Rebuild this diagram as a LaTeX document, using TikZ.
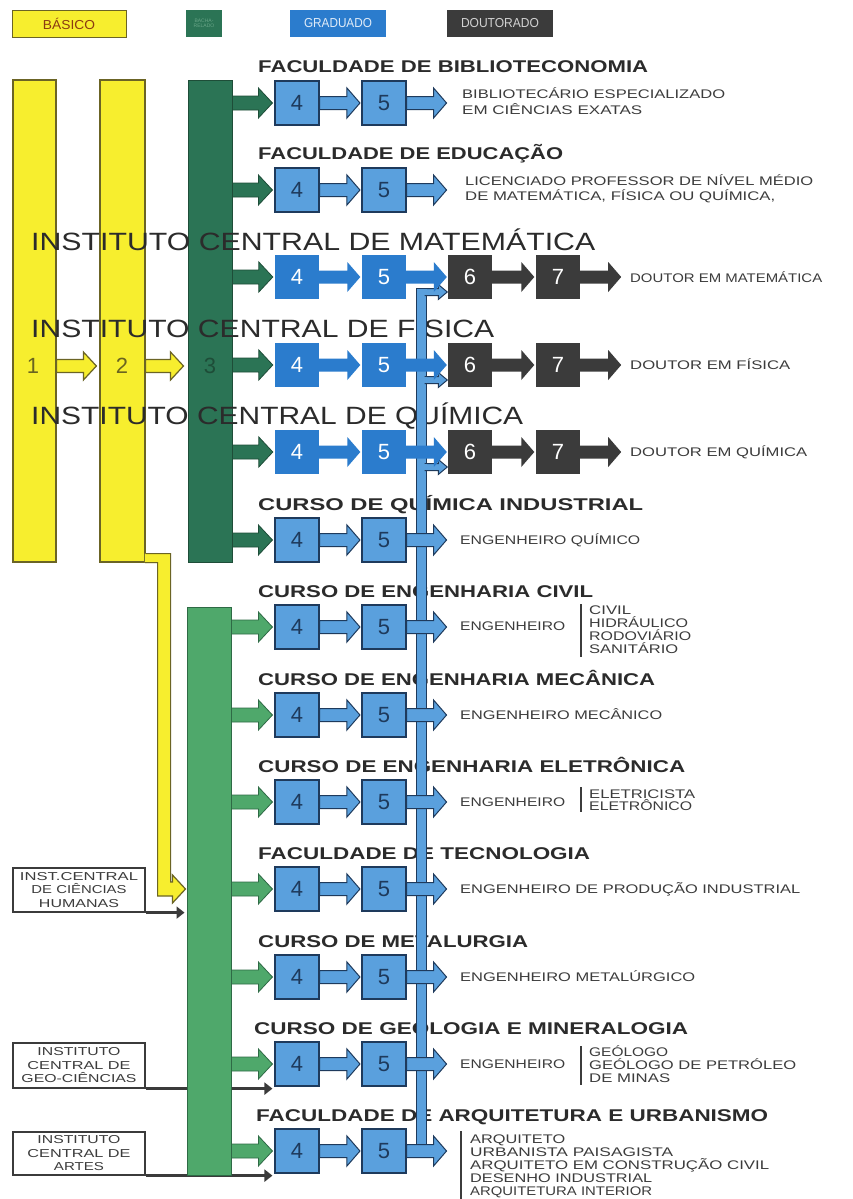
\documentclass[tikz,border=0pt]{standalone}
\usepackage{fontspec}
\setmainfont{Liberation Sans}
\usepackage{graphicx}
\usetikzlibrary{calc,arrows.meta}
\pgfdeclarelayer{back}
\pgfdeclarelayer{mid}
\pgfsetlayers{back,mid,main}

\definecolor{ylw}{HTML}{F7EE2E}
\definecolor{ylwd}{HTML}{6B6425}
\definecolor{olv}{HTML}{6A6420}
\definecolor{dgrn}{HTML}{2B7455}
\definecolor{dgrnd}{HTML}{1E4D38}
\definecolor{lgrn}{HTML}{4FA86B}
\definecolor{lgrnd}{HTML}{2E6A45}
\definecolor{sblu}{HTML}{2B7CCD}
\definecolor{lblu}{HTML}{5AA0DD}
\definecolor{nav}{HTML}{1E3A5C}
\definecolor{dk}{HTML}{3B3B3B}
\definecolor{txt}{HTML}{2B2B2B}
\definecolor{lbl}{HTML}{3C3C3C}
\definecolor{brn}{HTML}{8B3A12}
\definecolor{lgtxt}{HTML}{6AA688}

\newcommand\fw[2]{\resizebox{#1}{\height}{#2}}
% block arrow: style, from, to, shaft half, head half, head length
\newcommand\barr[6]{\path[#1] let \p1=(#2), \p2=(#3) in
  (\x1,{\y1+#4}) -- ({\x2-#6},{\y1+#4}) -- ({\x2-#6},{\y1+#5}) -- (\x2,\y1)
  -- ({\x2-#6},{\y1-#5}) -- ({\x2-#6},{\y1-#4}) -- (\x1,{\y1-#4}) -- cycle;}

\tikzset{
 col/.style={inner sep=0pt, minimum width=43pt},
 ycol/.style={col, fill=ylw, draw=ylwd, line width=1.2pt},
 bx/.style={minimum width=44pt, minimum height=44pt, inner sep=0pt, font=\fontsize{22}{22}\selectfont},
 lbox/.style={bx, fill=lblu, draw=nav, line width=1.1pt, text=nav},
 sbox/.style={bx, fill=sblu, text=white},
 dbox/.style={bx, fill=dk, text=white},
 garr/.style={fill=dgrn, draw=dgrnd, line width=0.8pt},
 lgarr/.style={fill=lgrn, draw=lgrnd, line width=0.8pt},
 larr/.style={fill=lblu, draw=nav, line width=1pt},
 sarr/.style={fill=sblu},
 darr/.style={fill=dk},
 yarr/.style={fill=ylw, draw=ylwd, line width=1.2pt},
 ttl/.style={inner sep=0pt, anchor=base west, text=txt, font=\fontsize{17}{18}\selectfont\bfseries},
 bigttl/.style={inner sep=0pt, anchor=base west, text=txt, font=\fontsize{25}{26}\selectfont},
 lab/.style={inner sep=0pt, anchor=base west, text=lbl, font=\fontsize{12.5}{13}\selectfont},
 hbox/.style={draw=dk, line width=1.2pt, fill=white, minimum width=132pt, minimum height=44pt, inner sep=0pt, align=center, text=lbl, font=\fontsize{11.5}{13.5}\selectfont},
 blk/.style={draw=dk, line width=3pt, -{Triangle[length=8pt,width=12pt]}, shorten >=2pt},
 chan/.style={fill=lblu, draw=nav, line width=1pt},
 sidebar/.style={draw=lbl, line width=1.4pt},
 lgd/.style={inner sep=0pt, minimum height=27pt, font=\fontsize{13}{14}\selectfont},
 num/.style={inner sep=0pt, font=\fontsize{22}{22}\selectfont},
}

\newcommand\mkrow[6]{%
 \node[#3] (r#1a) at (297,#2) {4};
 \node[#3] (r#1b) at (384,#2) {5};
 \barr{#5}{#6.east |- r#1a.west}{$(r#1a.west)+(-2,0)$}{7pt}{15pt}{14pt}
 \barr{#4}{r#1a.east}{$(r#1b.west)+(-1.5,0)$}{6.5pt}{15pt}{13pt}
}
\newcommand\docnodes[2]{%
 \node[dbox] (r#1c) at (470,#2) {6};
 \node[dbox] (r#1d) at (558,#2) {7};
}
\newcommand\docarrows[1]{%
 \coordinate (r#1e) at ($(r#1d.east)+(41,0)$);
 \barr{sarr}{r#1b.east}{$(r#1c.west)+(-1,0)$}{6.5pt}{15pt}{13pt}
 \barr{darr}{r#1c.east}{$(r#1d.west)+(-1.5,0)$}{6.5pt}{15pt}{13pt}
 \barr{darr}{r#1d.east}{r#1e}{6.5pt}{15pt}{13pt}
}
\newcommand\outarr[2]{%
 \coordinate (r#1e) at ($(r#1b.east)+(40,0)$);
 \barr{#2}{r#1b.east}{r#1e}{6.5pt}{15pt}{13pt}
}
\newcommand\branch[2]{%
 \coordinate (bs#1) at (425,#2);
 \barr{larr}{bs#1}{$(r#1c.west |- bs#1)+(-0.5,0)$}{3.5pt}{7.5pt}{9pt}
 \fill[lblu] (424.4,{#2-2.9}) rectangle (426.9,{#2+2.9});
}

\begin{document}
\begin{tikzpicture}[x=1pt,y=-1pt]
\begin{pgfonlayer}{back}
\fill[white] (0,0) rectangle (852,1199);
\end{pgfonlayer}
\useasboundingbox (0,0) rectangle (852,1199);

% legend
\node[lgd, fill=ylw, draw=ylwd, line width=1pt, minimum width=114pt, text=brn] (lg1) at (69,24) {\fw{52pt}{BÁSICO}};
\node[lgd, fill=dgrn, minimum width=36pt, text=lgtxt, font=\fontsize{5}{5.5}\selectfont, align=center] (lg2) at (204,23.5) {BACHA-\\RELADO};
\node[lgd, fill=sblu, minimum width=96pt, text=white!85!sblu] (lg3) at (338,23.5) {\fw{68pt}{GRADUADO}};
\node[lgd, fill=dk, minimum width=106pt, text=gray!35] (lg4) at (500,23.5) {\fw{78pt}{DOUTORADO}};

% columns
\node[ycol, minimum height=482pt] (c1) at (34.5,321) {};
\node[ycol, minimum height=482pt, minimum width=45pt] (c2) at (122.5,321) {};
\node[col, fill=dgrn, draw=dgrnd, line width=1pt, minimum width=44pt, minimum height=482pt] (c3) at (210,321) {};
\node[col, fill=lgrn, draw=lgrnd, line width=1pt, minimum width=44pt, minimum height=568pt] (g) at (209,891) {};

% numbers 1 2 3 and yellow arrows
\node[num, text=olv] (n1) at (33,366) {1};
\node[num, text=olv] (n2) at (122,366) {2};
\node[num, text=dgrnd] (n3) at (210,366) {3};
\barr{yarr}{c1.east |- n1}{$(c2.west |- n1)+(-3,0)$}{6.5pt}{14pt}{13pt}
\barr{yarr}{c2.east |- n2}{$(c3.west |- n2)+(-4,0)$}{6.5pt}{14pt}{13pt}

% titles
\node[ttl] (t1) at (258,72) {\fw{390pt}{FACULDADE DE BIBLIOTECONOMIA}};
\node[ttl] (t2) at (258,159) {\fw{305pt}{FACULDADE DE EDUCAÇÃO}};
\node[bigttl] (t3) at (31,250) {\fw{564pt}{INSTITUTO CENTRAL DE MATEMÁTICA}};
\node[bigttl] (t4) at (31,337) {\fw{463pt}{INSTITUTO CENTRAL DE FÍSICA}};
\node[bigttl] (t5) at (31,424) {\fw{492pt}{INSTITUTO CENTRAL DE QUÍMICA}};
\node[ttl] (t6) at (258,510) {\fw{385pt}{CURSO DE QUÍMICA INDUSTRIAL}};
\node[ttl] (t7) at (258,597) {\fw{335pt}{CURSO DE ENGENHARIA CIVIL}};
\node[ttl] (t8) at (258,685) {\fw{397pt}{CURSO DE ENGENHARIA MECÂNICA}};
\node[ttl] (t9) at (258,772) {\fw{427pt}{CURSO DE ENGENHARIA ELETRÔNICA}};
\node[ttl] (t10) at (258,859) {\fw{332pt}{FACULDADE DE TECNOLOGIA}};
\node[ttl] (t11) at (258,947) {\fw{270pt}{CURSO DE METALURGIA}};
\node[ttl] (t12) at (254,1034) {\fw{434pt}{CURSO DE GEOLOGIA E MINERALOGIA}};
\node[ttl] (t13) at (256,1121) {\fw{512pt}{FACULDADE DE ARQUITETURA E URBANISMO}};

% rows
\mkrow{1}{103}{lbox}{larr}{garr}{c3}
\mkrow{2}{190}{lbox}{larr}{garr}{c3}
\mkrow{3}{277}{sbox}{sarr}{garr}{c3}
\mkrow{4}{365}{sbox}{sarr}{garr}{c3}
\mkrow{5}{452}{sbox}{sarr}{garr}{c3}
\mkrow{6}{540}{lbox}{larr}{garr}{c3}
\mkrow{7}{627}{lbox}{larr}{lgarr}{g}
\mkrow{8}{715}{lbox}{larr}{lgarr}{g}
\mkrow{9}{802}{lbox}{larr}{lgarr}{g}
\mkrow{10}{889}{lbox}{larr}{lgarr}{g}
\mkrow{11}{977}{lbox}{larr}{lgarr}{g}
\mkrow{12}{1064}{lbox}{larr}{lgarr}{g}
\mkrow{13}{1151}{lbox}{larr}{lgarr}{g}

% yellow channel from column 2 to the lower green column
\fill[ylw] let \p1=(c2.south east), \p2=(g.west |- r10a.west) in
  ({\x1-0.7pt},{\y1+9pt}) -- ({\x1+25pt},{\y1+9pt}) -- ({\x1+25pt},{\y2+7pt}) -- ({\x2-14pt},{\y2+7pt})
  -- ({\x2-14pt},{\y2+14pt}) -- ({\x2-1pt},\y2) -- ({\x2-14pt},{\y2-14pt}) -- ({\x2-14pt},{\y2-7pt})
  -- ({\x1+12pt},{\y2-7pt}) -- ({\x1+12pt},{\y1-0.6pt}) -- ({\x1-0.7pt},{\y1-0.6pt}) -- cycle;
\draw[ylwd, line width=1.2pt] let \p1=(c2.south east), \p2=(g.west |- r10a.west) in
  (\x1,{\y1+9pt}) -- ({\x1+25pt},{\y1+9pt}) -- ({\x1+25pt},{\y2+7pt}) -- ({\x2-14pt},{\y2+7pt})
  -- ({\x2-14pt},{\y2+14pt}) -- ({\x2-1pt},\y2) -- ({\x2-14pt},{\y2-14pt}) -- ({\x2-14pt},{\y2-7pt})
  -- ({\x1+12pt},{\y2-7pt}) -- ({\x1+12pt},\y1) -- ({\x1-0.6pt},\y1);

% doctoral boxes
\docnodes{3}{277}
\docnodes{4}{365}
\docnodes{5}{452}

% blue channel from the lower graduate courses up to the doctorates
\coordinate (chT) at (421,288.5);
\coordinate (chB) at (421,1146);
\draw[chan] ($(chT)+(-5,0)$) rectangle ($(chB)+(5,0)$);
\branch{3}{292}
\branch{4}{380}
\branch{5}{467}

% output arrows
\docarrows{3}
\docarrows{4}
\docarrows{5}
\outarr{1}{larr}
\outarr{2}{larr}
\outarr{6}{larr}
\outarr{7}{larr}
\outarr{8}{larr}
\outarr{9}{larr}
\outarr{10}{larr}
\outarr{11}{larr}
\outarr{12}{larr}
\outarr{13}{larr}

% labels
\node[lab] (l1a) at (462,99) {\fw{263pt}{BIBLIOTECÁRIO ESPECIALIZADO}};
\node[lab] (l1b) at (462,114) {\fw{180pt}{EM CIÊNCIAS EXATAS}};
\node[lab] (l2a) at (465,185) {\fw{348pt}{LICENCIADO PROFESSOR DE NÍVEL MÉDIO}};
\node[lab] (l2b) at (465,200) {\fw{310pt}{DE MATEMÁTICA, FÍSICA OU QUÍMICA,}};
\node[lab] (l3) at (630,282) {\fw{192pt}{DOUTOR EM MATEMÁTICA}};
\node[lab] (l4) at (630,369) {\fw{160pt}{DOUTOR EM FÍSICA}};
\node[lab] (l5) at (630,456) {\fw{177pt}{DOUTOR EM QUÍMICA}};
\node[lab] (l6) at (460,544) {\fw{180pt}{ENGENHEIRO QUÍMICO}};
\node[lab] (l7) at (460,630) {\fw{105pt}{ENGENHEIRO}};
\draw[sidebar] (581,604) -- (581,657);
\node[lab] (l7a) at (589,614) {\fw{42pt}{CIVIL}};
\node[lab] (l7b) at (589,627) {\fw{99pt}{HIDRÁULICO}};
\node[lab] (l7c) at (589,640) {\fw{102pt}{RODOVIÁRIO}};
\node[lab] (l7d) at (589,653) {\fw{89pt}{SANITÁRIO}};
\node[lab] (l8) at (460,719) {\fw{202pt}{ENGENHEIRO MECÂNICO}};
\node[lab] (l9) at (460,806) {\fw{105pt}{ENGENHEIRO}};
\draw[sidebar] (581,787) -- (581,812);
\node[lab] (l9a) at (589,798) {\fw{106pt}{ELETRICISTA}};
\node[lab] (l9b) at (589,810) {\fw{103pt}{ELETRÔNICO}};
\node[lab] (l10) at (460,893) {\fw{340pt}{ENGENHEIRO DE PRODUÇÃO INDUSTRIAL}};
\node[lab] (l11) at (460,981) {\fw{235pt}{ENGENHEIRO METALÚRGICO}};
\node[lab] (l12) at (460,1068) {\fw{105pt}{ENGENHEIRO}};
\draw[sidebar] (581,1046) -- (581,1085);
\node[lab] (l12a) at (589,1056) {\fw{79pt}{GEÓLOGO}};
\node[lab] (l12b) at (589,1069) {\fw{207pt}{GEÓLOGO DE PETRÓLEO}};
\node[lab] (l12c) at (589,1082) {\fw{81pt}{DE MINAS}};
\draw[sidebar] (461,1131) -- (461,1199);
\node[lab] (l13a) at (470,1143) {\fw{95pt}{ARQUITETO}};
\node[lab] (l13b) at (470,1156) {\fw{203pt}{URBANISTA PAISAGISTA}};
\node[lab] (l13c) at (470,1169) {\fw{299pt}{ARQUITETO EM CONSTRUÇÃO CIVIL}};
\node[lab] (l13d) at (470,1182) {\fw{182pt}{DESENHO INDUSTRIAL}};
\node[lab] (l13e) at (470,1195) {\fw{182pt}{ARQUITETURA INTERIOR}};

% left institute boxes
\node[hbox] (h1) at (79,890) {\fw{118pt}{INST.CENTRAL}\\\fw{95pt}{DE CIÊNCIAS}\\\fw{80pt}{HUMANAS}};
\node[hbox, minimum height=45pt] (h2) at (79,1065.5) {\fw{83pt}{INSTITUTO}\\\fw{103pt}{CENTRAL DE}\\\fw{115pt}{GEO-CIÊNCIAS}};
\node[hbox, minimum height=43pt] (h3) at (79,1153.5) {\fw{83pt}{INSTITUTO}\\\fw{103pt}{CENTRAL DE}\\\fw{50pt}{ARTES}};
\begin{pgfonlayer}{mid}
\draw[blk] (h1.south east) -- (g.west |- h1.south east);
\draw[blk] (h2.south east) -- (r12a.west |- h2.south east);
\draw[blk] (h3.south east) -- (r13a.west |- h3.south east);
\end{pgfonlayer}
\end{tikzpicture}
\end{document}
